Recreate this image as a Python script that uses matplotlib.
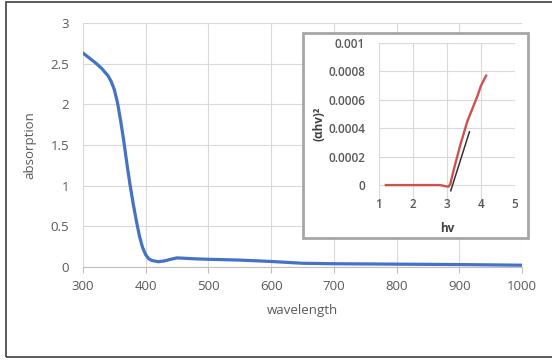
import matplotlib
matplotlib.use('Agg')
import matplotlib.pyplot as plt
from matplotlib.patches import Rectangle

plt.rcParams['font.family'] = ['Open Sans', 'DejaVu Sans']

# main spectrum
wavelength = [300, 310, 320, 330, 340, 345, 350, 355, 360, 365, 370, 375, 380, 385,
              390, 395, 400, 405, 410, 420, 430, 440, 450, 460, 480, 500, 550, 600,
              650, 700, 800, 900, 1000]
absorption = [2.63, 2.57, 2.51, 2.44, 2.35, 2.28, 2.18, 2.02, 1.80, 1.55, 1.27, 1.01,
              0.78, 0.57, 0.38, 0.24, 0.15, 0.10, 0.08, 0.065, 0.075, 0.095, 0.112,
              0.108, 0.10, 0.095, 0.085, 0.068, 0.046, 0.04, 0.035, 0.03, 0.022]

# tauc plot (inset)
hv = [1.2, 1.5, 2.0, 2.5, 2.8, 2.9, 3.0, 3.05, 3.1, 3.2, 3.3, 3.4, 3.5, 3.6, 3.7,
      3.8, 3.9, 4.0, 4.15]
ahv2 = [0, 0, 0, 0, 0, -0.000005, -0.00001, -0.00001, 0.00001, 0.00011, 0.0002,
        0.00029, 0.00037, 0.00045, 0.00051, 0.00057, 0.00063, 0.0007, 0.00077]
fit_hv = [3.11, 3.66]
fit_y = [-0.00004, 0.000375]

txt = '#595959'
grid = '#d9d9d9'

fig = plt.figure(figsize=(5.52, 3.6), dpi=100)

# outer frame
fig.patches.append(Rectangle((6/552, 3/360), 1.0, 355/360, transform=fig.transFigure,
                             fill=False, edgecolor='#404040', lw=1.2, zorder=0))

ax = fig.add_axes([83/552, 1 - 267/360, 439/552, 244/360])
ax.plot(wavelength, absorption, color='#4472C4', lw=2.3, solid_capstyle='round')
ax.set_xlim(300, 1000)
ax.set_ylim(0, 3)
ax.set_xticks(range(300, 1001, 100))
ax.set_yticks([0, 0.5, 1, 1.5, 2, 2.5, 3])
ax.set_yticklabels(['0', '0.5', '1', '1.5', '2', '2.5', '3'])
ax.grid(True, color=grid, lw=0.8)
ax.set_axisbelow(True)
for s in ['top', 'right', 'left']:
    ax.spines[s].set_visible(False)
ax.spines['bottom'].set_color('#bfbfbf')
ax.tick_params(axis='x', colors='#bfbfbf', length=4, labelcolor=txt, labelsize=9.5, pad=5)
ax.tick_params(axis='y', length=0, labelcolor=txt, labelsize=9.5, pad=10)
ax.set_xlabel('wavelength', color=txt, fontsize=9.5, labelpad=8)
ax.set_ylabel('absorption', color=txt, fontsize=9.5, labelpad=10)

# inset frame
fig.patches.append(Rectangle((303/552, 1 - 238/360), 225/552, 205/360,
                             transform=fig.transFigure, facecolor='white',
                             edgecolor='#a6a6a6', lw=2, zorder=1))

ins = fig.add_axes([379/552, 1 - 205/360, 136/552, 162/360], zorder=2)
ins.patch.set_alpha(0)
ins.plot(hv, ahv2, color='#D0504E', lw=1.7)
ins.plot(fit_hv, fit_y, color='#333333', lw=1.1)
ins.set_xlim(1, 5)
ins.set_ylim(-0.00014, 0.001)
ins.set_xticks([1, 2, 3, 4, 5])
ins.set_yticks([0, 0.0002, 0.0004, 0.0006, 0.0008, 0.001])
ins.set_yticklabels(['0', '0.0002', '0.0004', '0.0006', '0.0008', '0.001'])
ins.grid(True, color=grid, lw=0.8)
ins.set_axisbelow(True)
for s in ins.spines.values():
    s.set_visible(False)
ins.tick_params(axis='x', length=0, labelcolor=txt, labelsize=8.5, pad=-5)
ins.tick_params(axis='y', length=0, labelcolor=txt, labelsize=8.5, pad=10)
for lab in ins.get_xticklabels() + ins.get_yticklabels():
    lab.set_fontweight('semibold')
ins.set_xlabel('hv', color='#404040', fontsize=8.5, fontweight='bold', labelpad=8)
ins.set_ylabel('(αhv)²', color='#404040', fontsize=8.5, fontweight='bold', labelpad=2)

fig.savefig('out.png', dpi=100)
